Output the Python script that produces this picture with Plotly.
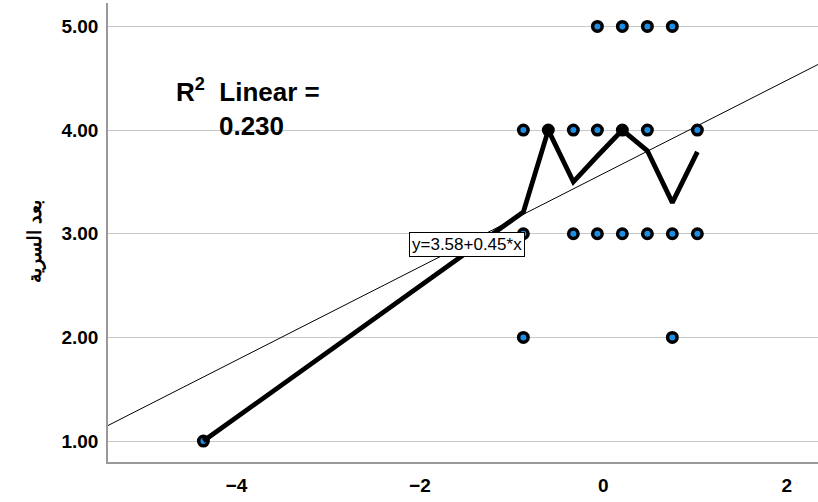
import plotly.graph_objects as go

# Data
point_x = [-4.36, -0.872, -0.872, -0.872, -0.60, -0.327, -0.327,
           -0.065, -0.065, -0.065, 0.207, 0.207, 0.207,
           0.48, 0.48, 0.48, 0.752, 0.752, 0.752, 1.025, 1.025]
point_y = [1, 2, 3, 4, 4, 3, 4,
           3, 4, 5, 3, 4, 5,
           3, 4, 5, 2, 3, 5, 3, 4]
mean_x = [-4.36, -0.872, -0.60, -0.327, -0.065, 0.207, 0.48, 0.752, 1.025]
mean_y = [1.0, 3.21, 4.0, 3.5, 3.75, 4.0, 3.8, 3.3, 3.79]
intercept = 3.58
slope = 0.45
r2 = 0.230
x_range = [-5.40, 2.34]
y_range = [0.798, 5.226]
x_ticks = [-4, -2, 0, 2]
y_ticks = [1, 2, 3, 4, 5]
y_title = "بعد السرية"

FONT = "Liberation Sans, Arial, sans-serif"
BLUE = "#1C8EE6"

# per-point fill: black where the mean line vertex sits on the point
fills = []
for px, py in zip(point_x, point_y):
    hit = any(abs(px - mx) < 1e-6 and abs(py - my) < 1e-6 for mx, my in zip(mean_x, mean_y))
    fills.append("black" if (hit and py != 1) else BLUE)

fig = go.Figure()
fit_x = list(x_range)
fit_y = [intercept + slope * v for v in fit_x]
fig.add_trace(go.Scatter(x=fit_x, y=fit_y, mode="lines",
                         line=dict(color="black", width=1), hoverinfo="skip"))
fig.add_trace(go.Scatter(x=point_x, y=point_y, mode="markers",
                         marker=dict(size=9.5, color=fills, line=dict(color="black", width=3.5))))
fig.add_trace(go.Scatter(x=mean_x, y=mean_y, mode="lines",
                         line=dict(color="black", width=4.8)))

fig.add_annotation(x=-3.87, y=4.22, xref="x", yref="y",
                   text="R<sup>2</sup>  Linear =<br> %.3f" % r2, showarrow=False,
                   font=dict(family=FONT, size=26, color="black", weight="bold"),
                   align="center")
fig.add_annotation(x=-1.49, y=2.90, xref="x", yref="y",
                   text="y=%.2f+%.2f*x" % (intercept, slope), showarrow=False,
                   font=dict(family=FONT, size=17, color="black"),
                   bgcolor="white", bordercolor="black", borderwidth=1, borderpad=2)
fig.add_annotation(x=-0.103, y=0.48, xref="paper", yref="paper",
                   text=y_title, textangle=-90, showarrow=False,
                   font=dict(family=FONT, size=19, color="black", weight="bold"),
                   xanchor="center", yanchor="middle")

fig.update_layout(
    width=818, height=502,
    margin=dict(l=108, r=0, t=3, b=40),
    paper_bgcolor="white", plot_bgcolor="white",
    showlegend=False,
    xaxis=dict(range=x_range, tickvals=x_ticks, showgrid=False, zeroline=False,
               showline=True, linecolor="#999999", linewidth=1.5, ticks="",
               ticklabelstandoff=5,
               tickfont=dict(family=FONT, size=19, color="black", weight="bold")),
    yaxis=dict(range=y_range, tickvals=y_ticks, tickformat=".2f", showgrid=True,
               gridcolor="#c8c8c8", gridwidth=1, zeroline=False,
               showline=True, linecolor="#999999", linewidth=1.5, ticks="",
               ticklabelstandoff=4,
               tickfont=dict(family=FONT, size=19, color="black", weight="bold")),
)
fig.write_html("out.html")
